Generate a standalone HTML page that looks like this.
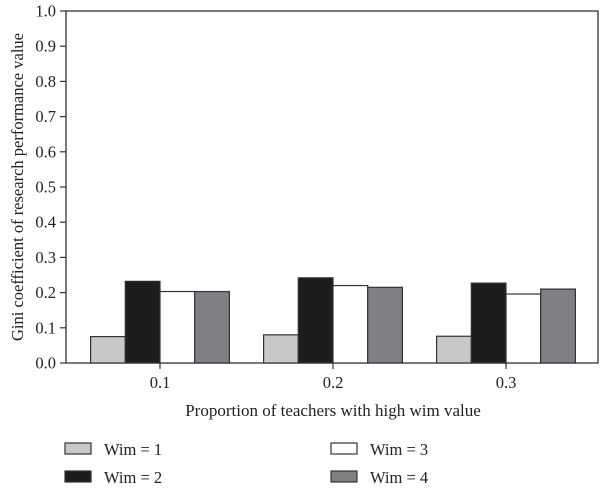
<!DOCTYPE html>
<html><head><meta charset="utf-8"><style>
body{margin:0;background:#fff;}
svg{display:block;font-family:"Liberation Serif",serif;}
</style></head><body>
<svg id="chart" width="600" height="489" viewBox="0 0 600 489" xmlns="http://www.w3.org/2000/svg">
<g id="axes"></g><g id="bars"></g><g id="legend"></g>
<text x="333" y="416" text-anchor="middle" font-size="17" fill="#222">Proportion of teachers with high wim value</text>
<text transform="translate(23,187) rotate(-90)" text-anchor="middle" font-size="16.5" fill="#222">Gini coefficient of research performance value</text>
</svg>
<script>
const categories=["0.1","0.2","0.3"];
const seriesNames=["Wim = 1","Wim = 2","Wim = 3","Wim = 4"];
const wim1=[0.075,0.080,0.076];
const wim2=[0.232,0.242,0.227];
const wim3=[0.203,0.220,0.196];
const wim4=[0.203,0.215,0.210];
const yTicks=["0.0","0.1","0.2","0.3","0.4","0.5","0.6","0.7","0.8","0.9","1.0"];
const series=[wim1,wim2,wim3,wim4];
const fills=["#c8c8c8","#1e1c1d","#ffffff","#7f8083"];
const NS="http://www.w3.org/2000/svg";
const L=66,R=598,T=11,B=363;
const y=v=>B-(v/1)*(B-T);
const xC=i=>160+i*173;
const bw=34.7;
function mk(tag,attrs,parent,text){const e=document.createElementNS(NS,tag);for(const k in attrs)e.setAttribute(k,attrs[k]);if(text!==undefined)e.textContent=text;parent.appendChild(e);return e;}
const ax=document.getElementById('axes');
let e=mk('rect',{x:L,y:T,width:R-L,height:B-T,fill:'none',stroke:'#333','stroke-width':1.3},ax);


yTicks.forEach(t=>{const v=parseFloat(t);
 let l=mk('line',{x1:L-6,x2:L,y1:y(v),y2:y(v),stroke:'#333','stroke-width':1.2},ax);
 
 
 let tx=mk('text',{x:L-10,y:y(v)+5.5,'text-anchor':'end','font-size':16.5,fill:'#222'},ax,t);
 
 
});
categories.forEach((c,i)=>{
 let l=mk('line',{x1:xC(i),x2:xC(i),y1:B,y2:B+6,stroke:'#333','stroke-width':1.2},ax);
 
 
 let tx=mk('text',{x:xC(i),y:B+25,'text-anchor':'middle','font-size':16.5,fill:'#222'},ax,c);
 
 
});
const bg=document.getElementById('bars');
categories.forEach((c,i)=>{
 series.forEach((s,j)=>{
  const x0=xC(i)-2*bw+j*bw;
  let r=mk('rect',{x:x0,y:y(s[i]),width:bw,height:B-y(s[i]),fill:fills[j],stroke:'#333','stroke-width':1.2},bg);
  
  
 });
});
const lg=document.getElementById('legend');
const pos=[[65,449],[65,477],[331,449],[331,477]];
seriesNames.forEach((n,j)=>{
 const [px,py]=pos[j];
 let g=mk('g',{},lg);
 
 
 mk('rect',{x:px,y:py-6,width:26,height:11,fill:fills[j],stroke:'#333','stroke-width':1.2},g);
 mk('text',{x:px+39,y:py+6,'font-size':16.5,fill:'#222'},g,n);
});
</script>
</body></html>
